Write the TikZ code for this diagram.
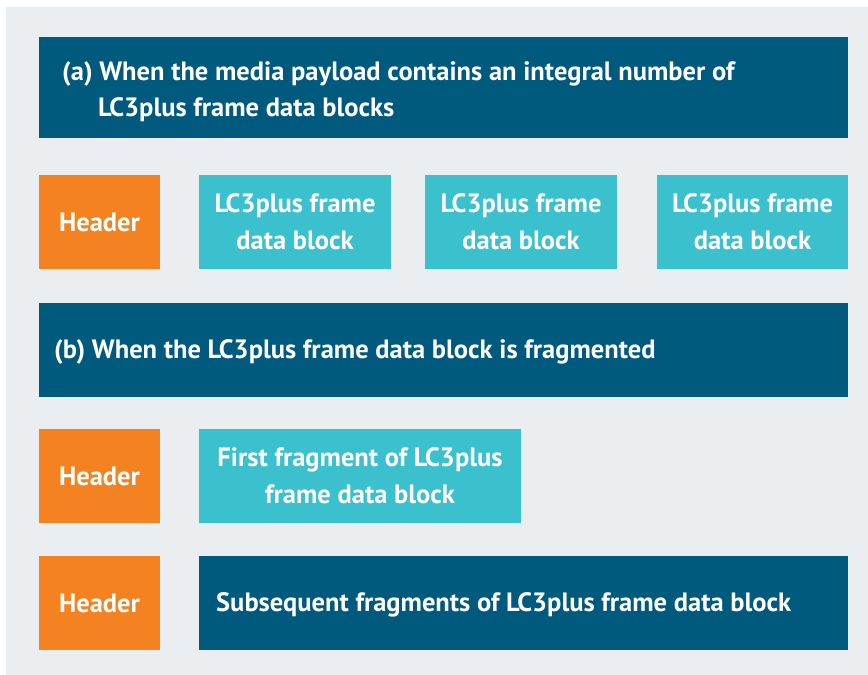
\documentclass[tikz,border=0pt]{standalone}
\usepackage{fontspec}
\setmainfont{PT Sans}
\definecolor{bgc}{HTML}{EBEEF1}
\definecolor{darkc}{HTML}{005A7D}
\definecolor{tealc}{HTML}{3BC0CE}
\definecolor{orangec}{HTML}{F58220}
\begin{document}
\begin{tikzpicture}[x=1pt,y=-1pt,
  box/.style={anchor=north west, inner sep=0pt, outer sep=0pt, text=white, align=center,
    font=\bfseries\fontsize{26.5}{37}\selectfont},
  hdr/.style={box, fill=orangec, minimum width=121pt, minimum height=94pt},
  blk/.style={box, fill=tealc, minimum height=94pt},
  dark/.style={box, fill=darkc, minimum height=94pt},
  txt/.style={inner sep=0pt, text=white, font=\bfseries\fontsize{26.5}{37}\selectfont}]
\useasboundingbox (0,0) rectangle (868,675);
\fill[bgc] (6,7) rectangle (868,675);
% (a)
\node[dark, minimum width=809pt, minimum height=101pt] (ba) at (39,37) {};
\node[txt, anchor=base west] (ta1) at (62,80) {(a) When the media payload contains an integral number of};
\node[txt, anchor=base west] (ta2) at (98,116) {LC3plus frame data blocks};
% row 1
\node[hdr] (h1) at (39,175) {Header};
\node[blk, minimum width=192pt] (b1) at (199,175) {LC3plus frame\\data block};
\node[blk, minimum width=192pt] (b2) at (425,175) {LC3plus frame\\data block};
\node[blk, minimum width=191pt] (b3) at (657,175) {LC3plus frame\\data block};
% (b)
\node[dark, minimum width=809pt] (bb) at (39,303) {};
\node[txt, anchor=west] (tb) at (54,352) {(b) When the LC3plus frame data block is fragmented};
% row 2
\node[hdr] (h2) at (39,429) {Header};
\node[blk, minimum width=322pt] (f1) at (199,429) {First fragment of LC3plus\\frame data block};
% row 3
\node[hdr] (h3) at (39,556) {Header};
\node[dark, minimum width=649pt] (f2) at (199,556) {};
\node[txt, anchor=west] (tf2) at (216,605) {Subsequent fragments of LC3plus frame data block};
\end{tikzpicture}
\end{document}
